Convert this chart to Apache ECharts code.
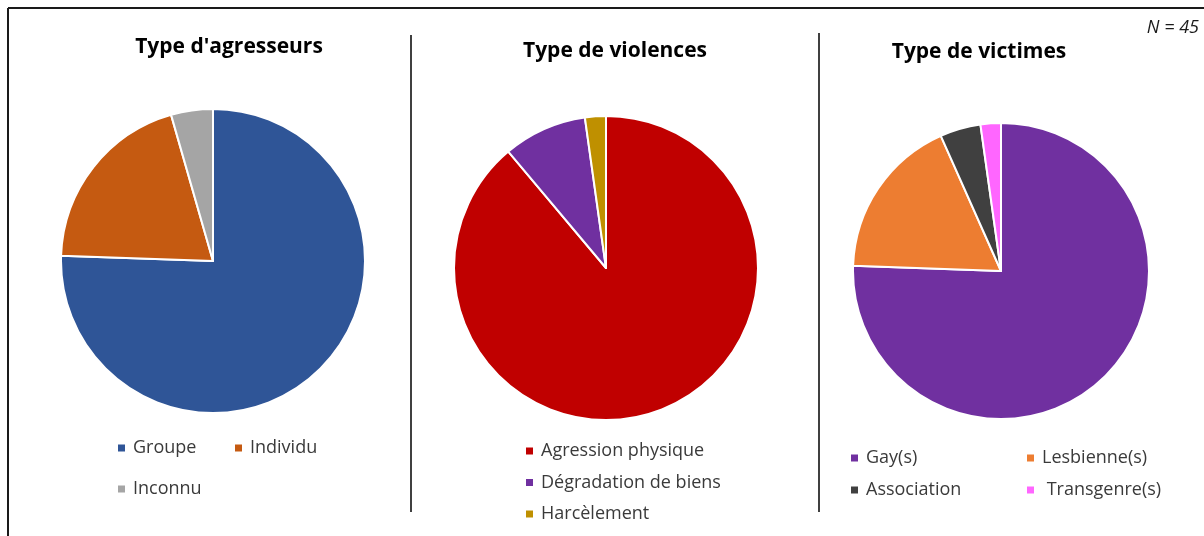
<!DOCTYPE html>
<html>
<head>
<meta charset="utf-8">
<script src="https://cdn.jsdelivr.net/npm/echarts@6/dist/echarts.min.js"></script>
<style>
  html, body { margin: 0; padding: 0; background: #fff; }
  #chart { width: 1204px; height: 536px; }
</style>
</head>
<body>
<div id="chart"></div>
<script>
// Counts per category (N = 45 incidents)
const agresseursCats = ['Groupe', 'Individu', 'Inconnu'];
const agresseursVals = [34, 9, 2];

const violencesCats = ['Agression physique', 'Dégradation de biens', 'Harcèlement'];
const violencesVals = [40, 4, 1];

const victimesCats = ['Gay(s)', 'Lesbienne(s)', 'Association', 'Transgenre(s)'];
const victimesVals = [34, 8, 2, 1];

const titles = ["Type d'agresseurs", 'Type de violences', 'Type de victimes'];
const totalLabel = 'N = 45';

const colors = {
  'Groupe': '#2F5597', 'Individu': '#C55A11', 'Inconnu': '#A5A5A5',
  'Agression physique': '#C00000', 'Dégradation de biens': '#7030A0', 'Harcèlement': '#BF9000',
  'Gay(s)': '#7030A0', 'Lesbienne(s)': '#ED7D31', 'Association': '#404040', 'Transgenre(s)': '#FF66FF'
};

const FONT = '"Open Sans", "Liberation Sans", sans-serif';

function pieData(cats, vals) {
  return cats.map((c, i) => ({ name: c, value: vals[i], itemStyle: { color: colors[c] } }));
}

function pieSeries(cats, vals, center, radius) {
  return {
    type: 'pie',
    center: center,
    radius: radius,
    startAngle: 90,
    clockwise: true,
    label: { show: false },
    labelLine: { show: false },
    emphasis: { disabled: true },
    itemStyle: { borderColor: '#ffffff', borderWidth: 2 },
    data: pieData(cats, vals)
  };
}

function legend(names, left, top, gap) {
  return {
    data: names,
    orient: 'vertical',
    left: left,
    top: top,
    padding: 0,
    itemGap: gap,
    itemWidth: 9,
    itemHeight: 9,
    icon: 'rect',
    selectedMode: false,
    formatter: n => (n === 'Transgenre(s)' ? ' ' + n : n),
    textStyle: { fontFamily: FONT, fontSize: 18, color: '#3a3a3a', lineHeight: 20, padding: [0, 0, 0, 2] }
  };
}

function titleText(text, x, y) {
  return {
    type: 'text', x: x, y: y,
    style: {
      text: text, fill: '#000', font: 'bold 21px ' + FONT,
      textAlign: 'center', textVerticalAlign: 'middle'
    }
  };
}

const chart = echarts.init(document.getElementById('chart'), null, { renderer: 'canvas' });

chart.setOption({
  animation: false,
  backgroundColor: '#ffffff',
  legend: [
    legend(['Groupe'], 116, 438, 12),
    legend(['Individu'], 233, 438, 12),
    legend(['Inconnu'], 116, 479, 12),
    legend(violencesCats, 524, 441, 11.5),
    legend(['Gay(s)', 'Association'], 849, 448, 12),
    legend(['Lesbienne(s)', 'Transgenre(s)'], 1025, 448, 12)
  ],
  graphic: [
    // frame (top and left edges)
    { type: 'line', shape: { x1: 8, y1: 8, x2: 1204, y2: 8 }, style: { stroke: '#1a1a1a', lineWidth: 2 } },
    { type: 'line', shape: { x1: 8, y1: 8, x2: 8, y2: 536 }, style: { stroke: '#1a1a1a', lineWidth: 2 } },
    // separators between the three panels
    { type: 'line', shape: { x1: 411, y1: 35, x2: 411, y2: 512 }, style: { stroke: '#404040', lineWidth: 2 } },
    { type: 'line', shape: { x1: 819, y1: 33, x2: 819, y2: 512 }, style: { stroke: '#404040', lineWidth: 2 } },
    titleText(titles[0], 229, 47),
    titleText(titles[1], 615, 51),
    titleText(titles[2], 979, 52),
    {
      type: 'text', x: 1199, y: 28,
      style: { text: totalLabel, fill: '#1a1a1a', font: 'italic 18px ' + FONT, textAlign: 'right', textVerticalAlign: 'middle' }
    }
  ],
  series: [
    pieSeries(agresseursCats, agresseursVals, [213, 261], 152),
    pieSeries(violencesCats, violencesVals, [606, 268], 152),
    pieSeries(victimesCats, victimesVals, [1001, 271], 148)
  ]
});
</script>
</body>
</html>
